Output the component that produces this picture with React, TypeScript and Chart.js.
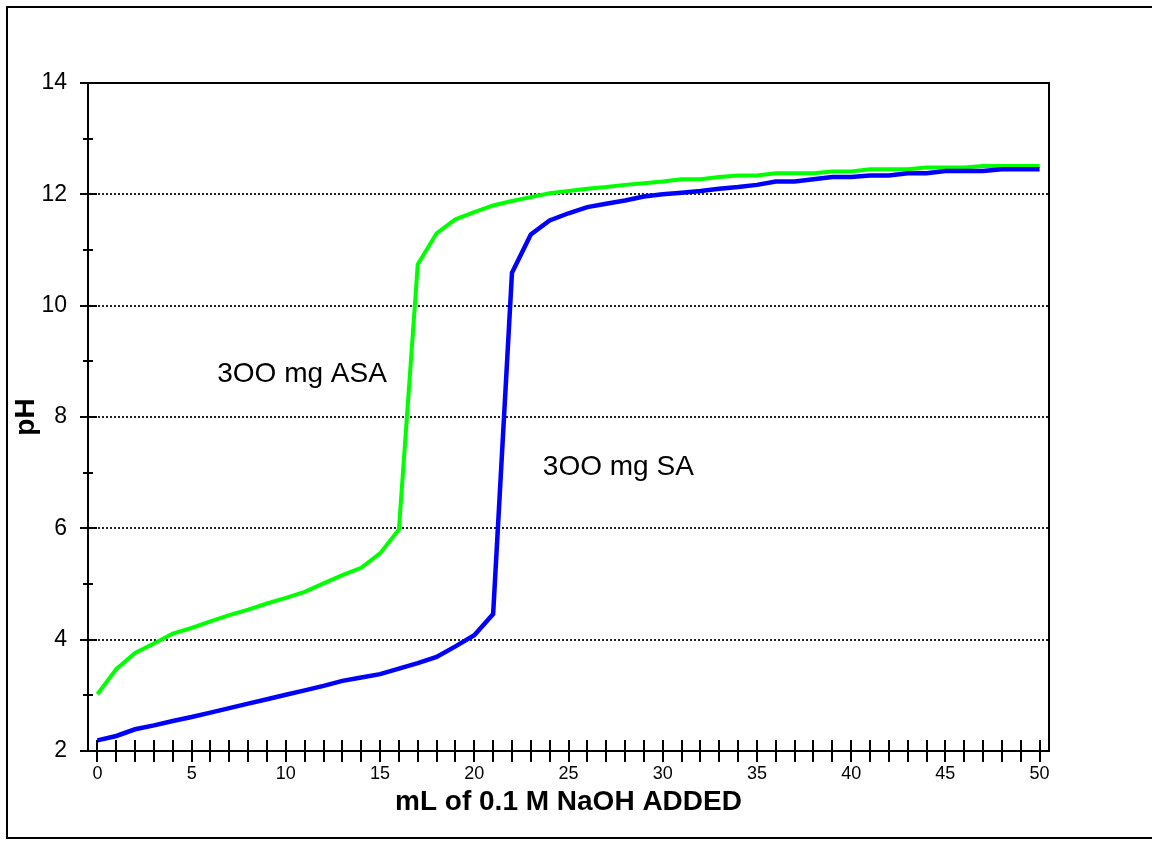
import { useEffect, useRef } from 'react';
import { Chart, registerables } from 'chart.js';

Chart.register(...registerables);

// mL of 0.1 M NaOH added
const naohML = [
  0, 1, 2, 3, 4, 5, 6, 7, 8, 9, 10, 11, 12, 13, 14, 15, 16, 17, 18, 19, 20,
  21, 22, 23, 24, 25, 26, 27, 28, 29, 30, 31, 32, 33, 34, 35, 36, 37, 38, 39, 40,
  41, 42, 43, 44, 45, 46, 47, 48, 49, 50,
];

// 300 mg ASA (green)
const asaPH = [
  3.02, 3.47, 3.76, 3.93, 4.11, 4.21, 4.33, 4.44, 4.54, 4.65, 4.75,
  4.86, 5.01, 5.16, 5.29, 5.55, 5.98, 10.74, 11.3, 11.55, 11.68,
  11.8, 11.88, 11.95, 12.02, 12.06, 12.1, 12.13, 12.17, 12.2, 12.23,
  12.27, 12.27, 12.31, 12.34, 12.34, 12.38, 12.38, 12.38, 12.41, 12.41,
  12.45, 12.45, 12.45, 12.48, 12.48, 12.48, 12.51, 12.51, 12.51, 12.51,
];

// 300 mg SA (blue)
const saPH = [
  2.19, 2.27, 2.39, 2.46, 2.54, 2.61, 2.69, 2.77, 2.85, 2.93, 3.01,
  3.09, 3.17, 3.26, 3.32, 3.38, 3.48, 3.58, 3.69, 3.88, 4.08,
  4.46, 10.59, 11.28, 11.53, 11.66, 11.77, 11.83, 11.89, 11.96, 12.0,
  12.03, 12.06, 12.1, 12.13, 12.17, 12.23, 12.23, 12.27, 12.31, 12.31,
  12.34, 12.34, 12.38, 12.38, 12.42, 12.42, 12.42, 12.45, 12.45, 12.45,
];

const xTickValues = naohML;
const xLabelValues = [0, 5, 10, 15, 20, 25, 30, 35, 40, 45, 50];
const yTickValues = [2, 3, 4, 5, 6, 7, 8, 9, 10, 11, 12, 13, 14];
const yLabelValues = [2, 4, 6, 8, 10, 12, 14];
const yGridValues = [4, 6, 8, 10, 12];

const annotationTexts = ['3OO mg ASA', '3OO mg SA'];
const annotationX = [6.36, 23.64];
const annotationY = [8.77, 7.09];

const FONT = "'Liberation Sans', Arial, Helvetica, sans-serif";

const decorPlugin = {
  id: 'decor',
  beforeDraw(chart: any) {
    const { ctx, width, height } = chart;
    ctx.save();
    ctx.fillStyle = '#ffffff';
    ctx.fillRect(0, 0, width, height);
    ctx.strokeStyle = '#000000';
    ctx.lineWidth = 2;
    ctx.strokeRect(7, 7, width + 20, height - 14);
    ctx.restore();
  },
  beforeDatasetsDraw(chart: any) {
    const { ctx, chartArea, scales } = chart;
    const y = scales.y;
    ctx.save();
    ctx.strokeStyle = '#222222';
    ctx.lineWidth = 2;
    ctx.setLineDash([2, 2]);
    yGridValues.forEach((v) => {
      const py = Math.round(y.getPixelForValue(v));
      ctx.beginPath();
      ctx.moveTo(chartArea.left + 2, py);
      ctx.lineTo(chartArea.right - 1, py);
      ctx.stroke();
    });
    ctx.restore();
  },
  afterDatasetsDraw(chart: any) {
    const { ctx, chartArea, scales } = chart;
    const x = scales.x;
    const y = scales.y;
    const { left, right, top, bottom } = chartArea;
    ctx.save();
    ctx.strokeStyle = '#000000';
    ctx.lineWidth = 2;
    ctx.setLineDash([]);
    // plot border
    ctx.strokeRect(left, top, right - left, bottom - top);
    // y ticks crossing the axis
    yTickValues.forEach((v) => {
      const py = Math.round(y.getPixelForValue(v));
      const major = v % 2 === 0;
      ctx.beginPath();
      ctx.moveTo(left - (major ? 8 : 5), py);
      ctx.lineTo(left + (major ? 9 : 5), py);
      ctx.stroke();
    });
    // x ticks crossing the axis
    xTickValues.forEach((v) => {
      const px = Math.round(x.getPixelForValue(v));
      ctx.beginPath();
      ctx.moveTo(px, bottom - 11);
      ctx.lineTo(px, bottom + 11);
      ctx.stroke();
    });
    // annotations
    ctx.fillStyle = '#000000';
    ctx.font = `28px ${FONT}`;
    ctx.textAlign = 'left';
    ctx.textBaseline = 'middle';
    annotationTexts.forEach((t, i) => {
      ctx.fillText(t, x.getPixelForValue(annotationX[i]), y.getPixelForValue(annotationY[i]));
    });
    ctx.restore();
  },
};

export default function App() {
  const canvasRef = useRef<HTMLCanvasElement>(null);

  useEffect(() => {
    document.body.style.margin = '0';
    const canvas = canvasRef.current;
    if (!canvas) return;
    const chart = new Chart(canvas, {
      type: 'line',
      data: {
        datasets: [
          {
            label: '300 mg SA',
            data: naohML.map((v, i) => ({ x: v, y: saPH[i] })),
            borderColor: '#0000ff',
            borderWidth: 4.5,
            pointRadius: 0,
            tension: 0,
            fill: false,
          },
          {
            label: '300 mg ASA',
            data: naohML.map((v, i) => ({ x: v, y: asaPH[i] })),
            borderColor: '#00ff00',
            borderWidth: 4,
            pointRadius: 0,
            tension: 0,
            fill: false,
          },
        ],
      },
      options: {
        responsive: false,
        animation: false,
        devicePixelRatio: 1,
        layout: { padding: { left: 0, top: 83, right: 103, bottom: 0 } },
        plugins: {
          legend: { display: false },
          tooltip: { enabled: false },
        },
        scales: {
          x: {
            type: 'linear',
            min: -0.5,
            max: 50.5,
            afterBuildTicks: (scale: any) => {
              scale.ticks = xLabelValues.map((v) => ({ value: v }));
            },
            afterFit: (scale: any) => {
              scale.height = 94;
            },
            grid: { display: false, drawTicks: false },
            border: { display: false },
            ticks: {
              autoSkip: false,
              maxRotation: 0,
              padding: 12,
              color: '#000000',
              font: { family: FONT, size: 18 },
              callback: (v: any) => String(v),
            },
            title: {
              display: true,
              text: 'mL of 0.1 M NaOH ADDED',
              color: '#000000',
              font: { family: FONT, size: 28, weight: 'bold' },
              padding: { top: 0, bottom: 26 },
            },
          },
          y: {
            type: 'linear',
            min: 2,
            max: 14,
            afterBuildTicks: (scale: any) => {
              scale.ticks = yLabelValues.map((v) => ({ value: v }));
            },
            afterFit: (scale: any) => {
              scale.width = 88;
            },
            grid: { display: false, drawTicks: false },
            border: { display: false },
            ticks: {
              autoSkip: false,
              padding: 21,
              color: '#000000',
              font: { family: FONT, size: 23 },
              callback: (v: any) => String(v),
            },
            title: {
              display: true,
              text: 'pH',
              color: '#000000',
              font: { family: FONT, size: 28, weight: 'bold' },
              padding: { top: 9, bottom: 0 },
            },
          },
        },
      },
      plugins: [decorPlugin],
    });
    return () => chart.destroy();
  }, []);

  return (
    <div style={{ position: 'fixed', left: 0, top: 0, width: 1152, height: 845 }}>
      <canvas ref={canvasRef} width={1152} height={845} style={{ display: 'block' }} />
    </div>
  );
}
